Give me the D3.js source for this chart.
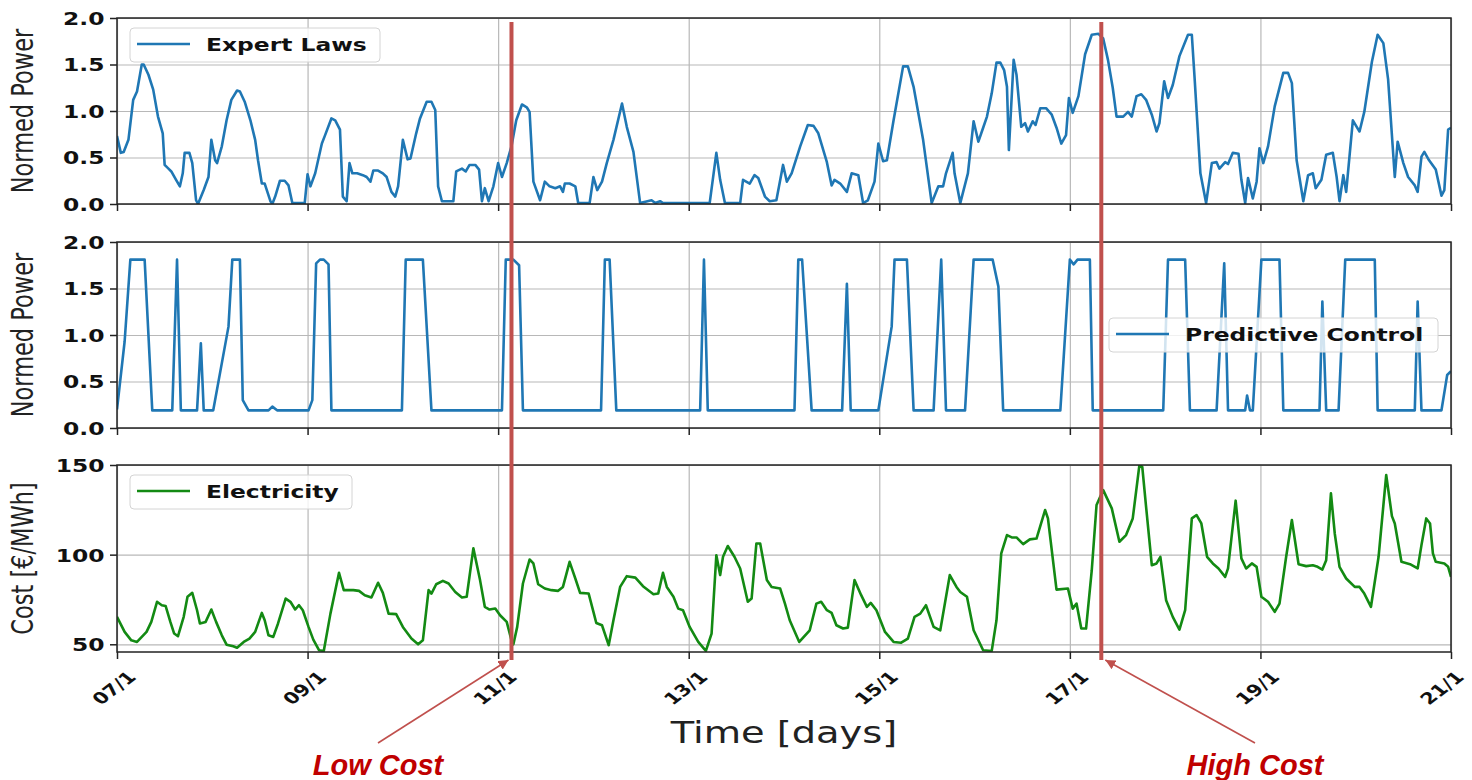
<!DOCTYPE html>
<html>
<head>
<meta charset="utf-8">
<script src="https://cdn.jsdelivr.net/npm/d3@7"></script>
<style>
  body { margin: 0; background: #fff; }
  svg { display: block; }
</style>
</head>
<body>
<script>
	// data: [days since 07/1, value]
	var expertLaws = [[0.00,0.73],[0.04,0.55],[0.07,0.56],[0.12,0.69],[0.17,1.12],[0.21,1.21],[0.26,1.50],[0.28,1.50],[0.33,1.39],[0.38,1.23],[0.43,0.94],[0.48,0.76],[0.50,0.42],[0.54,0.38],[0.57,0.35],[0.62,0.26],[0.66,0.19],[0.69,0.33],[0.71,0.55],[0.76,0.55],[0.79,0.44],[0.83,0.04],[0.85,0.00],[0.91,0.15],[0.96,0.29],[0.99,0.69],[1.03,0.47],[1.05,0.44],[1.10,0.62],[1.15,0.90],[1.20,1.12],[1.26,1.22],[1.29,1.21],[1.34,1.10],[1.40,0.90],[1.45,0.69],[1.48,0.47],[1.52,0.22],[1.55,0.22],[1.61,0.03],[1.63,0.00],[1.66,0.08],[1.71,0.25],[1.76,0.25],[1.80,0.20],[1.84,0.01],[1.97,0.01],[2.00,0.32],[2.03,0.19],[2.08,0.33],[2.15,0.65],[2.18,0.73],[2.25,0.92],[2.29,0.90],[2.34,0.80],[2.37,0.08],[2.41,0.03],[2.44,0.44],[2.47,0.33],[2.52,0.33],[2.58,0.31],[2.62,0.29],[2.66,0.24],[2.69,0.36],[2.74,0.36],[2.79,0.33],[2.83,0.29],[2.88,0.13],[2.92,0.08],[2.95,0.19],[3.00,0.69],[3.05,0.48],[3.08,0.49],[3.14,0.76],[3.18,0.92],[3.25,1.10],[3.30,1.10],[3.34,1.01],[3.37,0.19],[3.41,0.03],[3.53,0.03],[3.56,0.35],[3.62,0.38],[3.66,0.35],[3.70,0.42],[3.76,0.42],[3.80,0.37],[3.83,0.03],[3.86,0.17],[3.90,0.03],[3.95,0.19],[4.00,0.44],[4.04,0.29],[4.09,0.44],[4.14,0.62],[4.19,0.90],[4.25,1.07],[4.30,1.04],[4.33,0.99],[4.37,0.24],[4.44,0.04],[4.49,0.24],[4.54,0.19],[4.60,0.17],[4.65,0.19],[4.68,0.13],[4.70,0.22],[4.75,0.22],[4.81,0.19],[4.84,0.01],[4.96,0.01],[5.00,0.29],[5.04,0.15],[5.09,0.24],[5.14,0.44],[5.21,0.69],[5.30,1.08],[5.35,0.83],[5.42,0.56],[5.49,0.01],[5.61,0.04],[5.65,0.01],[5.70,0.03],[5.73,0.01],[6.22,0.01],[6.29,0.55],[6.33,0.26],[6.38,0.01],[6.54,0.01],[6.57,0.26],[6.64,0.22],[6.69,0.31],[6.73,0.28],[6.80,0.08],[6.85,0.03],[6.92,0.04],[6.99,0.42],[7.03,0.24],[7.08,0.33],[7.17,0.62],[7.25,0.85],[7.31,0.84],[7.36,0.76],[7.45,0.45],[7.50,0.20],[7.53,0.26],[7.59,0.22],[7.66,0.13],[7.71,0.33],[7.78,0.31],[7.83,0.01],[7.88,0.04],[7.95,0.24],[7.99,0.65],[8.04,0.46],[8.08,0.47],[8.15,0.90],[8.25,1.48],[8.30,1.48],[8.36,1.26],[8.46,0.69],[8.55,0.01],[8.62,0.19],[8.67,0.19],[8.70,0.33],[8.77,0.55],[8.79,0.33],[8.85,0.01],[8.88,0.13],[8.93,0.33],[8.99,0.89],[9.04,0.67],[9.09,0.82],[9.13,0.94],[9.18,1.19],[9.23,1.52],[9.27,1.52],[9.31,1.44],[9.34,1.26],[9.36,0.58],[9.41,1.55],[9.44,1.39],[9.49,0.83],[9.53,0.87],[9.56,0.78],[9.61,0.89],[9.64,0.85],[9.69,1.03],[9.75,1.03],[9.81,0.96],[9.86,0.82],[9.91,0.65],[9.96,0.74],[9.99,1.14],[10.03,0.98],[10.09,1.16],[10.16,1.61],[10.23,1.82],[10.30,1.83],[10.35,1.78],[10.40,1.55],[10.45,1.25],[10.49,0.94],[10.56,0.94],[10.61,0.99],[10.65,0.94],[10.70,1.16],[10.75,1.18],[10.80,1.12],[10.86,0.96],[10.91,0.78],[10.94,0.87],[10.99,1.32],[11.03,1.14],[11.08,1.28],[11.15,1.59],[11.24,1.82],[11.28,1.82],[11.31,1.34],[11.37,0.33],[11.43,0.01],[11.49,0.44],[11.54,0.45],[11.57,0.38],[11.63,0.45],[11.66,0.43],[11.71,0.55],[11.77,0.54],[11.80,0.26],[11.84,0.01],[11.87,0.28],[11.92,0.06],[11.96,0.24],[11.99,0.60],[12.03,0.44],[12.08,0.62],[12.15,1.05],[12.24,1.41],[12.29,1.41],[12.33,1.30],[12.38,0.47],[12.45,0.03],[12.50,0.31],[12.55,0.33],[12.58,0.17],[12.64,0.26],[12.69,0.53],[12.76,0.55],[12.80,0.29],[12.83,0.03],[12.87,0.31],[12.90,0.13],[12.97,0.90],[13.01,0.83],[13.04,0.78],[13.09,0.99],[13.17,1.53],[13.23,1.82],[13.29,1.73],[13.34,1.34],[13.41,0.29],[13.44,0.67],[13.50,0.44],[13.55,0.29],[13.62,0.20],[13.65,0.13],[13.69,0.51],[13.72,0.56],[13.77,0.47],[13.84,0.37],[13.90,0.09],[13.93,0.15],[13.97,0.80],[14.00,0.82]];

	var predictiveControl = [[0.00,0.20],[0.08,0.93],[0.14,1.81],[0.29,1.81],[0.37,0.19],[0.58,0.19],[0.63,1.81],[0.67,0.19],[0.84,0.19],[0.88,0.91],[0.91,0.19],[1.01,0.19],[1.17,1.09],[1.21,1.81],[1.29,1.81],[1.32,0.30],[1.38,0.19],[1.59,0.19],[1.63,0.23],[1.68,0.19],[2.01,0.19],[2.05,0.30],[2.09,1.77],[2.13,1.81],[2.17,1.81],[2.22,1.76],[2.25,0.19],[2.99,0.19],[3.03,1.81],[3.21,1.81],[3.30,0.19],[4.04,0.19],[4.08,1.81],[4.16,1.81],[4.22,1.75],[4.26,0.19],[5.08,0.19],[5.12,1.81],[5.17,1.81],[5.24,0.19],[6.12,0.19],[6.16,1.81],[6.20,0.19],[7.11,0.19],[7.15,1.81],[7.19,1.81],[7.29,0.19],[7.61,0.19],[7.66,1.55],[7.70,0.19],[7.99,0.19],[8.13,1.09],[8.16,1.81],[8.29,1.81],[8.36,0.19],[8.57,0.19],[8.65,1.81],[8.70,0.19],[8.90,0.19],[8.99,1.81],[9.19,1.81],[9.25,1.52],[9.30,0.19],[9.90,0.19],[10.00,1.81],[10.04,1.76],[10.08,1.81],[10.21,1.81],[10.24,0.19],[10.98,0.19],[11.03,1.81],[11.21,1.81],[11.26,0.19],[11.54,0.19],[11.62,1.77],[11.66,0.19],[11.84,0.19],[11.86,0.35],[11.89,0.19],[11.92,0.19],[12.01,1.81],[12.20,1.81],[12.24,0.19],[12.62,0.19],[12.65,1.36],[12.69,0.19],[12.82,0.19],[12.89,1.81],[13.20,1.81],[13.23,0.19],[13.62,0.19],[13.65,1.36],[13.69,0.19],[13.90,0.19],[13.96,0.57],[14.00,0.61]];

	var electricity = [[0.00,65.3],[0.08,56.9],[0.15,52.2],[0.21,51.3],[0.26,54.1],[0.31,56.9],[0.36,62.5],[0.42,73.7],[0.47,71.8],[0.51,71.4],[0.56,62.5],[0.60,56.0],[0.64,54.5],[0.70,65.3],[0.74,76.5],[0.79,78.7],[0.84,69.0],[0.87,61.6],[0.93,62.5],[0.99,69.4],[1.04,62.5],[1.10,55.0],[1.15,49.8],[1.22,48.9],[1.26,48.1],[1.33,51.3],[1.39,53.2],[1.45,56.9],[1.52,67.5],[1.55,63.4],[1.59,55.0],[1.64,54.1],[1.69,61.6],[1.77,75.5],[1.82,73.7],[1.87,69.4],[1.91,71.8],[1.95,69.0],[2.01,59.7],[2.06,52.6],[2.12,46.7],[2.17,46.3],[2.24,67.1],[2.33,89.9],[2.38,80.2],[2.48,80.2],[2.54,79.8],[2.60,77.4],[2.67,76.1],[2.74,84.3],[2.79,78.7],[2.85,67.1],[2.93,66.8],[3.00,59.7],[3.09,53.2],[3.16,50.0],[3.21,52.2],[3.27,80.2],[3.30,78.3],[3.35,83.5],[3.42,85.4],[3.48,83.9],[3.55,79.2],[3.62,76.1],[3.67,76.5],[3.74,103.5],[3.81,85.8],[3.86,70.9],[3.91,69.4],[3.97,70.0],[4.02,66.2],[4.09,62.5],[4.14,52.2],[4.16,50.0],[4.20,59.7],[4.26,83.9],[4.33,97.3],[4.37,95.1],[4.42,83.5],[4.49,81.1],[4.56,80.2],[4.63,79.8],[4.68,82.0],[4.75,96.0],[4.81,86.7],[4.86,78.7],[4.95,78.3],[5.00,68.1],[5.03,61.9],[5.09,60.6],[5.16,49.5],[5.21,63.4],[5.28,82.0],[5.35,88.0],[5.44,87.2],[5.52,82.4],[5.63,77.9],[5.68,78.3],[5.73,89.9],[5.77,82.0],[5.84,76.5],[5.89,69.9],[5.94,69.0],[6.01,59.7],[6.10,51.3],[6.18,46.3],[6.24,56.0],[6.29,99.7],[6.33,88.6],[6.36,98.8],[6.41,104.8],[6.48,98.8],[6.54,92.3],[6.62,73.7],[6.66,75.5],[6.71,106.2],[6.75,106.2],[6.82,85.8],[6.87,82.0],[6.96,81.1],[7.01,72.7],[7.06,63.4],[7.16,51.3],[7.27,57.8],[7.34,72.7],[7.39,73.7],[7.45,69.0],[7.50,67.5],[7.55,60.6],[7.62,58.8],[7.67,59.3],[7.74,85.8],[7.81,77.4],[7.87,70.9],[7.91,73.1],[7.97,69.0],[8.06,56.9],[8.15,51.3],[8.23,50.9],[8.30,53.2],[8.37,65.3],[8.43,67.1],[8.49,71.8],[8.57,59.7],[8.64,57.8],[8.74,88.6],[8.81,82.0],[8.85,79.2],[8.92,76.5],[8.99,57.8],[9.09,46.7],[9.18,46.3],[9.23,63.4],[9.28,100.7],[9.34,110.9],[9.39,109.6],[9.44,109.6],[9.51,105.9],[9.58,108.5],[9.65,109.0],[9.74,124.9],[9.77,120.2],[9.86,80.5],[9.98,81.1],[10.03,69.9],[10.07,72.7],[10.12,58.8],[10.17,58.8],[10.23,91.3],[10.28,127.7],[10.35,136.0],[10.44,125.8],[10.52,107.2],[10.59,110.9],[10.66,120.2],[10.73,150.0],[10.76,149.0],[10.80,126.7],[10.86,94.1],[10.91,95.1],[10.95,98.8],[11.01,74.6],[11.08,65.3],[11.15,58.2],[11.21,69.0],[11.28,120.2],[11.33,122.1],[11.38,117.4],[11.44,98.8],[11.50,95.1],[11.56,92.3],[11.63,87.6],[11.66,92.3],[11.74,130.1],[11.80,97.9],[11.85,92.3],[11.91,95.1],[11.96,93.2],[12.01,76.5],[12.08,73.7],[12.15,68.1],[12.20,72.7],[12.27,98.8],[12.33,119.3],[12.40,94.7],[12.48,93.6],[12.55,94.1],[12.60,93.2],[12.65,91.7],[12.69,96.9],[12.74,134.2],[12.78,111.8],[12.83,93.2],[12.90,86.7],[12.99,82.0],[13.04,82.0],[13.09,78.3],[13.16,70.9],[13.24,98.8],[13.32,144.4],[13.38,121.5],[13.41,117.4],[13.48,96.0],[13.57,94.7],[13.65,92.3],[13.69,105.3],[13.74,120.2],[13.78,117.4],[13.81,100.7],[13.84,96.0],[13.93,95.1],[13.97,93.2],[14.00,87.6]];

	var dayTicks = [0, 2, 4, 6, 8, 10, 12, 14];
	var dayLabels = ["07/1", "09/1", "11/1", "13/1", "15/1", "17/1", "19/1", "21/1"];
	var powerTicks = [0, 0.5, 1.0, 1.5, 2.0];
	var costTicks = [50, 100, 150];
	var markerDays = [4.14, 10.33];
	var markerLabels = ["Low Cost", "High Cost"];

	// the original figure is stretched sideways, so text is too
	var sx = 1.3;
	var width = 1472, height = 780;
	var left = 117, right = 1451;

	var svg = d3.select("body").append("svg")
		.attr("width", width)
		.attr("height", height);

	var xScale = d3.scaleLinear().domain([0, 14]).range([left, right]);

	var panels = [
		{ data: expertLaws, top: 18, bottom: 204, domain: [0, 2], ticks: powerTicks, fmt: d3.format(".1f"),
		  color: "#1f77b4", ylabel: "Normed Power", name: "Expert Laws", legend: { x: 130, y: 28, w: 250 } },
		{ data: predictiveControl, top: 242, bottom: 428, domain: [0, 2], ticks: powerTicks, fmt: d3.format(".1f"),
		  color: "#1f77b4", ylabel: "Normed Power", name: "Predictive Control", legend: { x: 1109, y: 318, w: 329 } },
		{ data: electricity, top: 465, bottom: 652, domain: [45.7, 150], ticks: costTicks, fmt: d3.format("d"),
		  color: "#138a13", ylabel: "Cost [€/MWh]", name: "Electricity", legend: { x: 130, y: 475, w: 222 } }
	];

	panels.forEach(function(p, i) {
		var yScale = d3.scaleLinear().domain(p.domain).range([p.bottom, p.top]);
		var g = svg.append("g");

		g.append("clipPath").attr("id", "clip" + i)
			.append("rect")
			.attr("x", left).attr("y", p.top)
			.attr("width", right - left).attr("height", p.bottom - p.top);

		// grid
		g.append("g")
			.attr("transform", "translate(0," + p.bottom + ")")
			.call(d3.axisBottom(xScale).tickValues(dayTicks).tickSize(-(p.bottom - p.top)).tickFormat(""))
			.call(function(s) { s.select(".domain").remove(); })
			.selectAll("line").attr("stroke", "#b8b8b8").attr("stroke-width", 1.2);
		g.append("g")
			.attr("transform", "translate(" + left + ",0)")
			.call(d3.axisLeft(yScale).tickValues(p.ticks).tickSize(-(right - left)).tickFormat(""))
			.call(function(s) { s.select(".domain").remove(); })
			.selectAll("line").attr("stroke", "#b8b8b8").attr("stroke-width", 1.2);

		// series
		var line = d3.line()
			.x(function(d) { return xScale(d[0]); })
			.y(function(d) { return yScale(d[1]); });
		g.append("path")
			.datum(p.data)
			.attr("clip-path", "url(#clip" + i + ")")
			.attr("fill", "none")
			.attr("stroke", p.color)
			.attr("stroke-width", 2.6)
			.attr("stroke-linejoin", "round")
			.attr("d", line);

		// frame
		g.append("rect")
			.attr("x", left).attr("y", p.top)
			.attr("width", right - left).attr("height", p.bottom - p.top)
			.attr("fill", "none").attr("stroke", "#222").attr("stroke-width", 1.5);

		// x axis ticks
		var xAxis = g.append("g")
			.attr("transform", "translate(0," + p.bottom + ")")
			.call(d3.axisBottom(xScale).tickValues(dayTicks).tickSize(7).tickFormat(""));
		xAxis.select(".domain").remove();
		xAxis.selectAll("line").attr("stroke", "#222").attr("stroke-width", 1.5);

		// y axis
		var yAxis = g.append("g")
			.attr("transform", "translate(" + left + ",0)")
			.call(d3.axisLeft(yScale).tickValues(p.ticks).tickSize(7).tickFormat(p.fmt));
		yAxis.select(".domain").remove();
		yAxis.selectAll("line").attr("stroke", "#222").attr("stroke-width", 1.5);
		yAxis.selectAll("text")
			.attr("x", -12.5 / sx)
			.attr("dy", "0.36em")
			.attr("transform", "scale(" + sx + ",1)")
			.attr("font-family", "DejaVu Sans")
			.attr("font-weight", "bold")
			.attr("font-size", 18)
			.attr("fill", "#111");

		// y label
		g.append("text")
			.attr("transform", "translate(33," + ((p.top + p.bottom) / 2) + ") scale(" + sx + ",1) rotate(-90)")
			.attr("text-anchor", "middle")
			.attr("font-family", "DejaVu Sans")
			.attr("font-size", 22.5)
			.attr("fill", "#222")
			.text(p.ylabel);

		// legend
		var lg = g.append("g").attr("transform", "translate(" + p.legend.x + "," + p.legend.y + ")");
		lg.append("rect")
			.attr("width", p.legend.w).attr("height", 34).attr("rx", 4)
			.attr("fill", "#fff").attr("fill-opacity", 0.8)
			.attr("stroke", "#d4d4d4").attr("stroke-width", 1);
		lg.append("line")
			.attr("x1", 7).attr("x2", 60).attr("y1", 16).attr("y2", 16)
			.attr("stroke", p.color).attr("stroke-width", 2.6);
		lg.append("text")
			.attr("transform", "translate(76,23) scale(" + sx + ",1)")
			.attr("font-family", "DejaVu Sans")
			.attr("font-weight", "bold")
			.attr("font-size", 18)
			.attr("fill", "#111")
			.text(p.name);

		// date labels below the last panel, centred on the ticks (kept inside the page)
		if (i === panels.length - 1) {
			g.selectAll(".daylabel")
				.data(dayTicks)
				.enter().append("text")
				.attr("class", "daylabel")
				.attr("transform", function(d) {
					var cx = Math.min(xScale(d) - 3, width - 30);
					return "translate(" + cx + "," + (p.bottom + 36) + ") scale(" + sx + ",1) rotate(-45)";
				})
				.attr("text-anchor", "middle")
				.attr("dy", "0.35em")
				.attr("font-family", "DejaVu Sans")
				.attr("font-weight", "bold")
				.attr("font-size", 16)
				.attr("fill", "#111")
				.text(function(d, j) { return dayLabels[j]; });
		}
	});

	// x title
	svg.append("text")
		.attr("transform", "translate(" + ((left + right) / 2) + ",743) scale(" + sx + ",1)")
		.attr("text-anchor", "middle")
		.attr("font-family", "DejaVu Sans")
		.attr("font-size", 29.5)
		.attr("fill", "#222")
		.text("Time [days]");

	// cost annotations
	var red = "#c0504d";
	svg.append("defs").append("marker")
		.attr("id", "arrow")
		.attr("viewBox", "0 0 10 10")
		.attr("refX", 10).attr("refY", 5)
		.attr("markerWidth", 10).attr("markerHeight", 10)
		.attr("markerUnits", "userSpaceOnUse")
		.attr("orient", "auto")
		.append("path").attr("d", "M0,0L10,5L0,10z").attr("fill", red);

	var labelX = [378, 1255];
	markerDays.forEach(function(day, k) {
		var x = xScale(day);
		svg.append("line")
			.attr("x1", x).attr("x2", x).attr("y1", 22).attr("y2", 660)
			.attr("stroke", red).attr("stroke-width", 4);
		svg.append("line")
			.attr("x1", labelX[k]).attr("y1", 743)
			.attr("x2", k === 0 ? x - 3 : x + 4).attr("y2", 660)
			.attr("stroke", red).attr("stroke-width", 1.6)
			.attr("marker-end", "url(#arrow)");
		svg.append("text")
			.attr("x", labelX[k]).attr("y", 775)
			.attr("text-anchor", "middle")
			.attr("font-family", "Liberation Sans")
			.attr("font-style", "italic")
			.attr("font-weight", "bold")
			.attr("font-size", 29)
			.attr("fill", "#c00000")
			.text(markerLabels[k]);
	});
</script>
</body>
</html>
